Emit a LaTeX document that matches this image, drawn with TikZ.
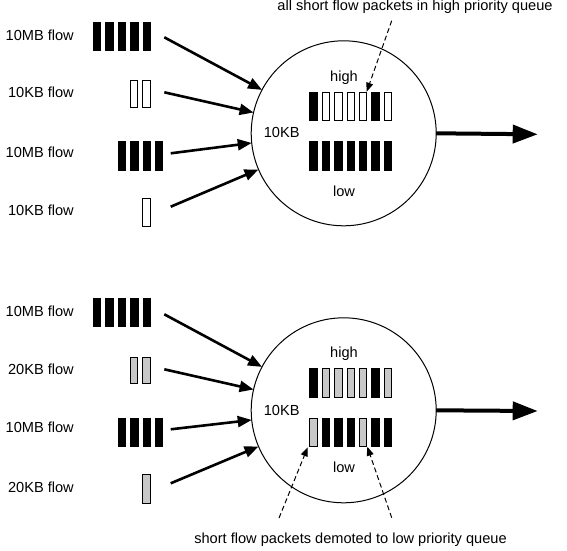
\documentclass[tikz,border=0pt]{standalone}
\usepackage{fontspec}
\setmainfont{Liberation Sans}
\usetikzlibrary{arrows.meta}
\definecolor{pk}{rgb}{0,0,0}
\definecolor{pw}{rgb}{1,1,1}
\definecolor{pg}{RGB}{200,200,200}
\tikzset{
  lbl/.style={font=\fontsize{14.6}{17}\selectfont, inner sep=0pt},
  flowlbl/.style={lbl, anchor=base east},
  pkt/.style={draw=black, line width=1pt},
  switchnode/.style={draw=black, line width=1pt, circle, minimum size=185pt, inner sep=0pt, outer sep=0pt},
  inarrow/.style={line width=2.6pt, -{Triangle[length=14pt,width=11pt]}},
  outarrow/.style={line width=4pt, -{Triangle[length=25pt,width=18pt]}},
  notearrow/.style={line width=1pt, dash pattern=on 5pt off 3pt, -{Triangle[length=9pt,width=7pt]}},
}
% \pktrow{x0}{pitch}{ytop}{ybot}{colours}
\newcommand{\pktrow}[5]{%
  \foreach \c [count=\i from 0] in {#5}
    \draw[pkt, fill=\c] ({#1+0.5+\i*#2},{#3+0.5}) rectangle ({#1+8+\i*#2},{#4-0.5});%
}
\begin{document}
\begin{tikzpicture}[x=1pt,y=-1pt]
\useasboundingbox (0,0) rectangle (567,550);

% ================= top panel =================
\node[flowlbl] (t1) at (74,40.5) {10MB flow};
\node[flowlbl] (t2) at (74,97.5) {10KB flow};
\node[flowlbl] (t3) at (74,157) {10MB flow};
\node[flowlbl] (t4) at (74,215.5) {10KB flow};

\pktrow{92.5}{12.5}{21.7}{50.7}{pk,pk,pk,pk,pk}
\pktrow{129.5}{12.8}{80}{107.7}{pw,pw}
\pktrow{117.7}{12.4}{140.7}{170.7}{pk,pk,pk,pk}
\pktrow{142.3}{12.4}{197.7}{226.7}{pw}

\node[switchnode] (sw1) at (343.7,133.3) {};
\node[lbl] (h1) at (344,77.3) {high};
\node[lbl] (l1) at (344,191) {low};
\node[lbl] (k1) at (281.7,132.7) {10KB};

\pktrow{309.3}{12.4}{91.7}{120.7}{pk,pw,pw,pw,pw,pk,pw}
\pktrow{309.3}{12.4}{141}{170.7}{pk,pk,pk,pk,pk,pk,pk}

\coordinate (s11) at (164.3,37.3);
\coordinate (s12) at (164.3,92.3);
\coordinate (s13) at (170.7,153.3);
\coordinate (s14) at (170.7,206.7);
\draw[inarrow] (s11) -- (sw1.152);
\draw[inarrow] (s12) -- (sw1.167.5);
\draw[inarrow] (s13) -- (sw1.186.5);
\draw[inarrow] (s14) -- (sw1.203);

\coordinate (o1) at (537.7,134.3);
\draw[outarrow] (sw1.east) -- (o1);

\node[lbl] (n1) at (415,6.7) {all short flow packets in high priority queue};
\coordinate (d1s) at (391.7,20.7);
\coordinate (d1e) at (366.7,91.7);
\draw[notearrow] (d1s) -- (d1e);

% ================= bottom panel =================
\node[flowlbl] (b1) at (74,316.2) {10MB flow};
\node[flowlbl] (b2) at (74,374.5) {20KB flow};
\node[flowlbl] (b3) at (74,432) {10MB flow};
\node[flowlbl] (b4) at (74,492.2) {20KB flow};

\pktrow{92.5}{12.5}{298.3}{327.3}{pk,pk,pk,pk,pk}
\pktrow{129.5}{12.8}{356.7}{384.3}{pg,pg}
\pktrow{117.7}{12.4}{417.7}{447.3}{pk,pk,pk,pk}
\pktrow{142.3}{12.4}{474.3}{503.7}{pg}

\node[switchnode] (sw2) at (343.7,410.3) {};
\node[lbl] (h2) at (344,353.3) {high};
\node[lbl] (l2) at (344,467.3) {low};
\node[lbl] (k2) at (281.7,410) {10KB};

\pktrow{309.3}{12.4}{368.3}{397.7}{pk,pg,pg,pg,pg,pk,pg}
\pktrow{309.3}{12.4}{417.7}{447.3}{pg,pk,pk,pk,pg,pk,pk}

\coordinate (s21) at (164.3,314.3);
\coordinate (s22) at (164.3,369.3);
\coordinate (s23) at (170.7,429.3);
\coordinate (s24) at (170.7,483.3);
\draw[inarrow] (s21) -- (sw2.152);
\draw[inarrow] (s22) -- (sw2.167.5);
\draw[inarrow] (s23) -- (sw2.186.5);
\draw[inarrow] (s24) -- (sw2.203);

\coordinate (o2) at (537.7,411);
\draw[outarrow] (sw2.east) -- (o2);

\node[lbl] (n2) at (350.5,540) {short flow packets demoted to low priority queue};
\coordinate (d2s) at (279,518);
\coordinate (d2e) at (307.7,447.3);
\coordinate (d3s) at (391.7,517.7);
\coordinate (d3e) at (367.3,446.7);
\draw[notearrow] (d2s) -- (d2e);
\draw[notearrow] (d3s) -- (d3e);
\end{tikzpicture}
\end{document}
